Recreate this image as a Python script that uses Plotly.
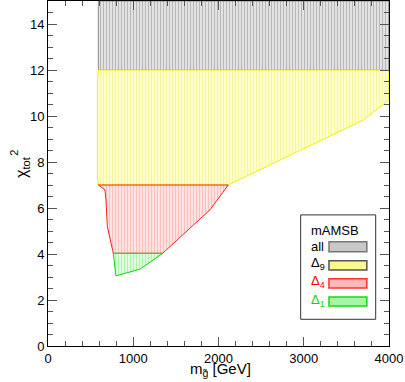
import plotly.graph_objects as go

# Region boundaries (m_gluino [GeV], chi2_tot)
all_x = [590, 590, 4000, 4000, 590]
all_y = [12.0, 15.0, 15.0, 12.0, 12.0]

d9_x = [590, 4000, 4000, 3950, 3700, 2115, 590, 580, 580, 590]
d9_y = [12.0, 12.0, 10.7, 10.55, 9.83, 7.0, 7.0, 7.4, 11.5, 12.0]

d4_x = [590, 2115, 1900, 1607, 1345, 766, 696, 680, 668, 590]
d4_y = [7.0, 7.0, 5.92, 4.9, 4.03, 4.03, 5.19, 6.35, 6.79, 7.0]

d1_x = [766, 1345, 1079, 797, 766]
d1_y = [4.03, 4.03, 3.34, 3.05, 4.03]

x_ticks = [0, 1000, 2000, 3000, 4000]
y_ticks = [0, 2, 4, 6, 8, 10, 12, 14]

FONT = "Liberation Sans, Arial, sans-serif"

fig = go.Figure()

def region(x, y, line_col, fg, bg, name):
    fig.add_trace(go.Scatter(
        x=x, y=y, mode="lines", fill="toself", name=name,
        line=dict(color=line_col, width=1),
        fillcolor=bg,
        fillpattern=dict(shape="|", fgcolor=fg, bgcolor=bg, size=3, solidity=0.35),
        showlegend=False, hoverinfo="skip"))

region(all_x, all_y, "#909090", "#8c8c8c", "#e2e2e2", "all")
region(d9_x, d9_y, "#f2f200", "#f4f070", "#ffffcc", "Δ9")
region(d4_x, d4_y, "#ff2020", "#ff9a9a", "#ffe2e2", "Δ4")
region(d1_x, d1_y, "#00dd00", "#7de87d", "#e0ffe0", "Δ1")

axis_common = dict(
    showline=True, linecolor="black", linewidth=1, mirror="ticks",
    ticks="inside", ticklen=9, tickwidth=1, tickcolor="#555",
    showgrid=False, zeroline=False,
    tickfont=dict(family=FONT, size=13, color="black"),
)

fig.update_xaxes(range=[0, 4000], tickvals=x_ticks, ticktext=[str(v) for v in x_ticks],
                 minor=dict(dtick=200, ticks="inside", ticklen=5, tickcolor="#555", showgrid=False),
                 **axis_common)
fig.update_yaxes(range=[0, 15], tickvals=y_ticks, ticktext=[str(v) for v in y_ticks],
                 minor=dict(dtick=0.5, ticks="inside", ticklen=5, tickcolor="#555", showgrid=False),
                 **axis_common)

ann = []
# axis titles
ann.append(dict(text="m<sub>g̃</sub> [GeV]", x=0.505, y=-0.034, xref="paper", yref="paper",
                xanchor="center", yanchor="top", showarrow=False,
                font=dict(family=FONT, size=15, color="black")))
ann.append(dict(text="χ<sub>tot</sub>", x=-0.075, y=0.52, xref="paper", yref="paper",
                xanchor="center", yanchor="middle", textangle=-90, showarrow=False,
                font=dict(family=FONT, size=16, color="black")))
ann.append(dict(text="2", x=-0.1, y=0.56, xref="paper", yref="paper",
                xanchor="center", yanchor="middle", textangle=-90, showarrow=False,
                font=dict(family=FONT, size=11, color="black")))

# legend box
shapes = [dict(type="rect", xref="paper", yref="paper", x0=0.741, x1=0.961, y0=0.0774, y1=0.380,
               line=dict(color="#333", width=1), fillcolor="white")]
ann.append(dict(text="mAMSB", x=0.765, y=0.336, xref="paper", yref="paper",
                xanchor="left", yanchor="middle", showarrow=False,
                font=dict(family=FONT, size=13, color="black")))

legend_items = [
    ("all", "black", 0.287, 0.273, 0.302, "#777", "#c8c8c8"),
    ("Δ<sub>9</sub>", "black", 0.238, 0.220, 0.247, "#555", "#fbf890"),
    ("Δ<sub>4</sub>", "red", 0.186, 0.168, 0.195, "#ff3030", "#ffb8b8"),
    ("Δ<sub>1</sub>", "#00dd00", 0.133, 0.116, 0.142, "#10dd10", "#a8f5a8"),
]
for txt, col, ty, y0, y1, border, fill in legend_items:
    ann.append(dict(text=txt, x=0.765, y=ty, xref="paper", yref="paper",
                    xanchor="left", yanchor="middle", showarrow=False,
                    font=dict(family=FONT, size=13, color=col)))
    shapes.append(dict(type="rect", xref="paper", yref="paper", x0=0.824, x1=0.935,
                       y0=y0, y1=y1, line=dict(color=border, width=1.5), fillcolor=fill))

fig.update_layout(
    width=405, height=382,
    margin=dict(l=48, r=16, t=1, b=36),
    paper_bgcolor="white", plot_bgcolor="white",
    annotations=ann, shapes=shapes, showlegend=False,
)

fig.write_html("out.html", config={"displayModeBar": False},
               post_script="document.body.style.margin='0';document.body.style.overflow='hidden';")
